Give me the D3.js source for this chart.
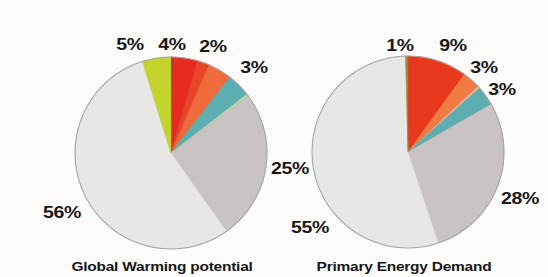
<!DOCTYPE html>
<html>
<head>
<meta charset="utf-8">
<script src="https://cdn.jsdelivr.net/npm/d3@7"></script>
<style>
  html, body { margin: 0; padding: 0; background: #fdfcfb; }
  svg { display: block; }
  text { font-family: "Liberation Sans", Arial, sans-serif; font-weight: bold; fill: #161616; }
</style>
</head>
<body>
<svg id="chart" width="548" height="277"></svg>
<script>
// ---- data (clockwise from 12 o'clock) ----
const gwpCategories = ["dark red", "red", "red-orange", "orange", "teal", "light green", "grey", "light grey", "yellow-green"];
const gwpValues     = [0.3, 4.2, 2.0, 4.0, 4.0, 0.4, 25.3, 55.0, 4.8];
const gwpColors     = ["#8e2a1a", "#e62b20", "#ea4528", "#ef6b3c", "#5daeb0", "#b8d9a8", "#c9c4c3", "#e9e7e5", "#c4d42c"];
const gwpLabels     = ["5%", "4%", "2%", "3%", "25%", "56%"];

const pedCategories = ["red", "orange", "pink", "teal", "grey", "light grey", "dark yellow"];
const pedValues     = [10.0, 3.0, 0.4, 3.3, 28.2, 54.7, 0.4];
const pedColors     = ["#e8391f", "#ef7a42", "#e9b3a2", "#5daeb0", "#c9c4c3", "#e9e7e5", "#a88a34"];
const pedLabels     = ["1%", "9%", "3%", "3%", "28%", "55%"];

const titles = ["Global Warming potential", "Primary Energy Demand"];

// ---- layout ----
const gwpLabelXY = [[130, 50], [172, 50], [213, 52], [254, 73], [290, 174], [62, 218]];
const pedLabelXY = [[400, 51], [453, 51], [484, 73], [502, 95], [520, 204], [310, 233]];
const pies = [
  { cx: 171, cy: 153, r: 96, values: gwpValues, colors: gwpColors, labels: gwpLabels, xy: gwpLabelXY, title: titles[0], tx: 162 },
  { cx: 408, cy: 152, r: 96, values: pedValues, colors: pedColors, labels: pedLabels, xy: pedLabelXY, title: titles[1], tx: 404 }
];

const svg = d3.select("#chart");
const pie = d3.pie().sort(null).value(d => d);

pies.forEach(p => {
  const g = svg.append("g").attr("transform", `translate(${p.cx},${p.cy})`);
  const arc = d3.arc().innerRadius(0).outerRadius(p.r);
  g.selectAll("path.slice")
    .data(pie(p.values))
    .join("path")
    .attr("class", "slice")
    .attr("d", arc)
    .attr("fill", (d, i) => p.colors[i])
    .attr("stroke", (d, i) => d3.color(p.colors[i]).darker(0.2))
    .attr("stroke-width", 0.6);
  g.append("circle")
    .attr("r", p.r)
    .attr("fill", "none")
    .attr("stroke", "#a9a5a4")
    .attr("stroke-width", 1.1);

  svg.selectAll(null)
    .data(p.labels)
    .join("text")
    .attr("transform", (d, i) => `translate(${p.xy[i][0]},${p.xy[i][1]}) scale(1.22,1)`)
    .attr("text-anchor", "middle")
    .attr("font-size", 16)
    .attr("letter-spacing", -0.3)
    .text(d => d);

  svg.append("text")
    .attr("transform", `translate(${p.tx},271) scale(1.24,1)`)
    .attr("text-anchor", "middle")
    .attr("font-size", 12.5)
    .attr("letter-spacing", -0.2)
    .text(p.title);
});
</script>
</body>
</html>
